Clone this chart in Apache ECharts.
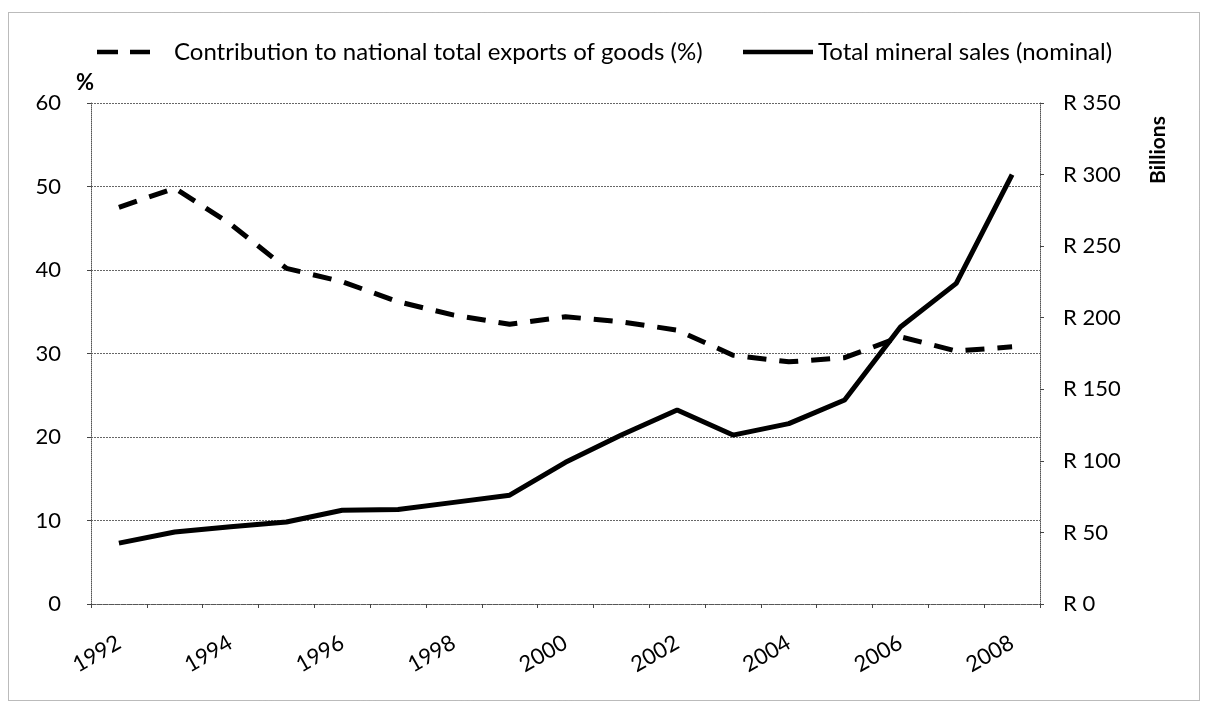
<!DOCTYPE html>
<html>
<head>
<meta charset="utf-8">
<script src="https://cdn.jsdelivr.net/npm/echarts@6/dist/echarts.min.js"></script>
<style>
  html, body { margin: 0; padding: 0; background: #fff; }
  #chart { width: 1207px; height: 710px; }
</style>
</head>
<body>
<div id="chart"></div>
<script>
// Years on the category axis
const years = ['1992','1993','1994','1995','1996','1997','1998','1999','2000',
               '2001','2002','2003','2004','2005','2006','2007','2008'];

// Mining's share of national goods exports, %
const exportShare = [47.5, 49.8, 45.5, 40.2, 38.6, 36.2, 34.6, 33.5, 34.4,
                     33.8, 32.8, 29.8, 29.0, 29.5, 32.0, 30.3, 30.8];

// Total mineral sales, nominal, R billions
const mineralSales = [42.5, 50.3, 54, 57.3, 65.5, 66, 71, 76, 99,
                      118, 135.5, 118, 126, 142.5, 193.5, 224, 300];

const seriesNames = ['Contribution to national total exports of goods (%)',
                     'Total mineral sales (nominal)'];

const FONT = 'Lato, "Open Sans", sans-serif';
const dotted = { color: '#555', width: 1, type: [1, 1] };

const chart = echarts.init(document.getElementById('chart'), null, { renderer: 'canvas' });

chart.setOption({
  animation: false,
  backgroundColor: '#fff',
  textStyle: { fontFamily: FONT, color: '#000' },
  graphic: [
    {
      type: 'rect',
      shape: { x: 8.5, y: 12.5, width: 1191, height: 688 },
      style: { fill: 'none', stroke: '#777', lineWidth: 1, lineDash: [1, 1] },
      silent: true
    },
    {
      type: 'text',
      x: 1158, y: 150,
      rotation: Math.PI / 2,
      style: {
        text: 'Billions', font: 'bold 21px ' + FONT, fill: '#000',
        align: 'center', verticalAlign: 'middle'
      }
    }
  ],
  legend: [
    {
      data: [seriesNames[0]],
      left: 97, top: 40, padding: 0,
      itemWidth: 53, itemHeight: 14,
      icon: 'path://M0,5 L21,5 L21,9.5 L0,9.5 Z M33,5 L53,5 L53,9.5 L33,9.5 Z',
      itemStyle: { color: '#000' },
      textStyle: { fontSize: 24, fontFamily: FONT, color: '#000', padding: [0, 0, 0, 19] }
    },
    {
      data: [seriesNames[1]],
      left: 743, top: 40, padding: 0,
      itemWidth: 70, itemHeight: 14,
      icon: 'path://M0,5 L70,5 L70,9.5 L0,9.5 Z',
      itemStyle: { color: '#000' },
      textStyle: { fontSize: 24, fontFamily: FONT, color: '#000', padding: [0, 0, 0, 0] }
    }
  ],
  grid: { left: 91, right: 167, top: 103, bottom: 106, containLabel: false },
  xAxis: {
    type: 'category',
    data: years,
    boundaryGap: true,
    axisLine: { lineStyle: dotted },
    axisTick: { show: true, interval: 0, length: 4, lineStyle: { color: '#444' } },
    axisLabel: {
      interval: 1, rotate: 30, fontSize: 22, color: '#000',
      fontFamily: FONT, margin: 37
    },
    splitLine: { show: false }
  },
  yAxis: [
    {
      type: 'value',
      min: 0, max: 60, interval: 10,
      name: '%',
      nameLocation: 'end',
      nameGap: 9,
      nameTextStyle: { fontSize: 22, fontWeight: 'bold', color: '#000', align: 'right', padding: [0, -3, 0, 0] },
      axisLine: { show: true, lineStyle: dotted },
      axisTick: { show: true, length: 4, lineStyle: { color: '#444' } },
      axisLabel: { fontSize: 22, color: '#000', fontFamily: FONT, margin: 30 },
      splitLine: { show: true, lineStyle: { color: '#666', width: 1, type: [2, 1] } }
    },
    {
      type: 'value',
      min: 0, max: 350, interval: 50,
      position: 'right',
      axisLine: { show: true, lineStyle: dotted },
      axisTick: { show: true, length: 4, lineStyle: { color: '#444' } },
      axisLabel: {
        fontSize: 22, color: '#000', fontFamily: FONT, margin: 23,
        formatter: v => 'R ' + v
      },
      splitLine: { show: false }
    }
  ],
  series: [
    {
      name: seriesNames[0],
      type: 'line',
      yAxisIndex: 0,
      data: exportShare,
      showSymbol: false,
      symbol: 'none',
      lineStyle: { color: '#000', width: 5, type: [19, 13] },
      itemStyle: { color: '#000' }
    },
    {
      name: seriesNames[1],
      type: 'line',
      yAxisIndex: 1,
      data: mineralSales,
      showSymbol: false,
      symbol: 'none',
      lineStyle: { color: '#000', width: 5 },
      itemStyle: { color: '#000' }
    }
  ]
});
</script>
</body>
</html>
